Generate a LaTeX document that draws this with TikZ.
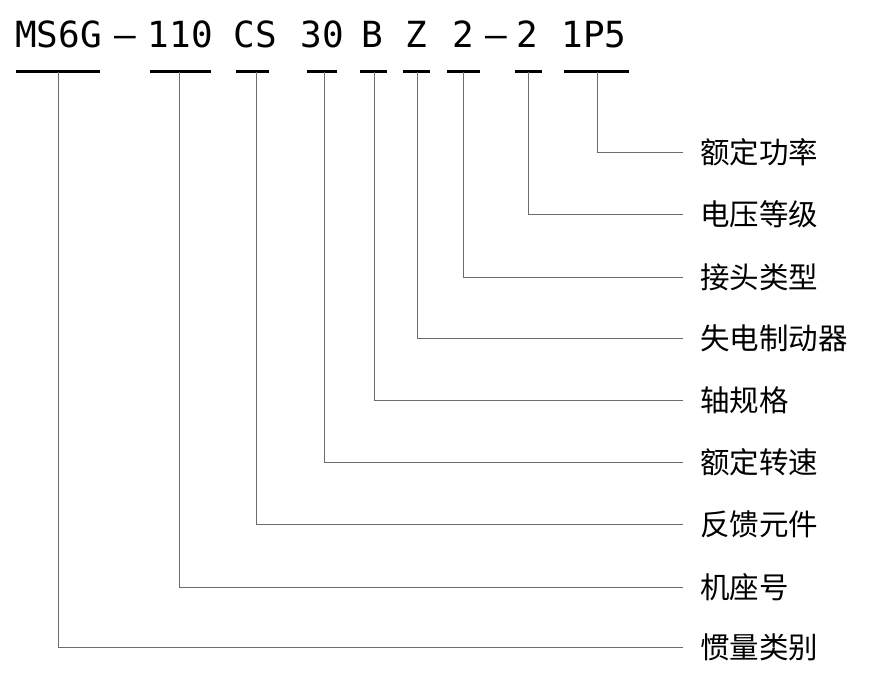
\documentclass[tikz,border=0pt]{standalone}
\usepackage{fontspec}
\setmainfont{DejaVu Sans Mono}
\newfontfamily\cjk{Noto Sans CJK SC}
\usetikzlibrary{positioning}

\tikzset{
    codetxt/.style={anchor=base, inner sep=0pt, font=\fontsize{36}{40}\selectfont},
    uline/.style={black, line width=3pt},
    conn/.style={gray!85!black, line width=1pt},
    partname/.style={anchor=west, inner xsep=17pt, inner ysep=0pt, font=\cjk\fontsize{29.5}{32}\selectfont}
}

\begin{document}
\begin{tikzpicture}[x=1pt, y=-1pt]
    \useasboundingbox (0,0) rectangle (874,693);

    % model code
    \node[codetxt] (ms) at (58.5,48) {MS6G};
    \node[codetxt] (d1) at (125,48) {–};
    \node[codetxt] (fr) at (180.5,48) {110};
    \node[codetxt] (fb) at (255,48) {CS};
    \node[codetxt] (sp) at (322,48) {30};
    \node[codetxt] (sh) at (372.5,48) {B};
    \node[codetxt] (br) at (416.5,48) {Z};
    \node[codetxt] (cn) at (463,48) {2};
    \node[codetxt] (d2) at (496.5,48) {–};
    \node[codetxt] (vl) at (527,48) {2};
    \node[codetxt] (pw) at (594,48) {1P5};

    % underlines
    \draw[uline] (16,71) -- (100,71);
    \draw[uline] (150,71) -- (211,71);
    \draw[uline] (236,71) -- (269,71);
    \draw[uline] (307,71) -- (337,71);
    \draw[uline] (360,71) -- (387,71);
    \draw[uline] (403,71) -- (430,71);
    \draw[uline] (447,71) -- (480,71);
    \draw[uline] (515,71) -- (542,71);
    \draw[uline] (564,71) -- (629,71);

    \coordinate (u1) at (58,72);
    \coordinate (u2) at (179,72);
    \coordinate (u3) at (256,72);
    \coordinate (u4) at (324,72);
    \coordinate (u5) at (374,72);
    \coordinate (u6) at (417,72);
    \coordinate (u7) at (463,72);
    \coordinate (u8) at (528,72);
    \coordinate (u9) at (597,72);

    % part names
    \node[partname] (l9) at (683,152) {额定功率};
    \node[partname] (l8) at (683,214) {电压等级};
    \node[partname] (l7) at (683,277) {接头类型};
    \node[partname] (l6) at (683,338) {失电制动器};
    \node[partname] (l5) at (683,400) {轴规格};
    \node[partname] (l4) at (683,462) {额定转速};
    \node[partname] (l3) at (683,524) {反馈元件};
    \node[partname] (l2) at (683,587) {机座号};
    \node[partname] (l1) at (683,647) {惯量类别};

    % leaders
    \draw[conn] (u9) |- (l9.west);
    \draw[conn] (u8) |- (l8.west);
    \draw[conn] (u7) |- (l7.west);
    \draw[conn] (u6) |- (l6.west);
    \draw[conn] (u5) |- (l5.west);
    \draw[conn] (u4) |- (l4.west);
    \draw[conn] (u3) |- (l3.west);
    \draw[conn] (u2) |- (l2.west);
    \draw[conn] (u1) |- (l1.west);
\end{tikzpicture}
\end{document}
